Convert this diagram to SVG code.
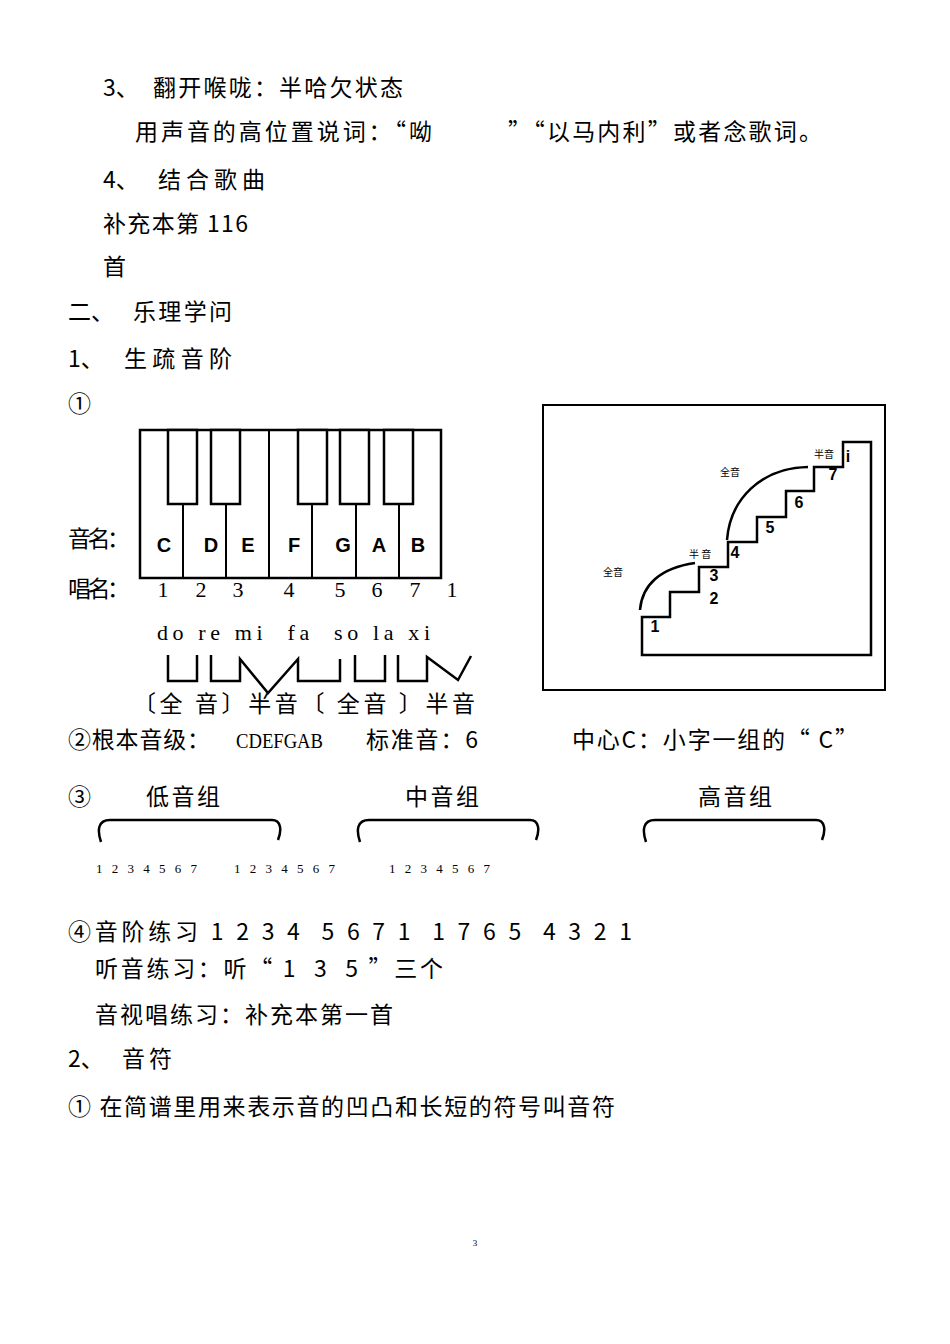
<svg xmlns="http://www.w3.org/2000/svg" width="950" height="1344" viewBox="0 0 950 1344">
<style>
text{white-space:pre}
.t{font-family:"Noto Sans CJK SC","Liberation Serif",serif;font-size:23px;fill:#000}
.n{font-family:"Liberation Serif","Noto Sans CJK SC",serif;font-size:22px;fill:#000}
.k{font-family:"Liberation Sans",Arial,sans-serif;font-weight:bold;font-size:20px;fill:#000;text-anchor:middle}
.s{font-family:"Liberation Sans",Arial,sans-serif;font-weight:bold;font-size:16px;fill:#000;text-anchor:middle}
.m{font-family:"Noto Sans CJK SC",sans-serif;font-size:10px;fill:#000}
.ln{fill:none;stroke:#000;stroke-width:2.5}
</style>
<rect width="950" height="1344" fill="#fff"/>
<g id="text">
<text class="t" x="103" y="96">3、</text>
<text class="t" x="153" y="96" textLength="250" lengthAdjust="spacing">翻开喉咙：半哈欠状态</text>
<text class="t" x="135" y="140" textLength="297" lengthAdjust="spacing">用声音的高位置说词：“呦</text>
<text class="t" x="508" y="140" textLength="314" lengthAdjust="spacing">”“以马内利”或者念歌词。</text>
<text class="t" x="103" y="188">4、</text>
<text class="t" x="158" y="188" textLength="107" lengthAdjust="spacing">结合歌曲</text>
<text class="t" x="103" y="232" textLength="145" lengthAdjust="spacing">补充本第 116</text>
<text class="t" x="103" y="275">首</text>
<text class="t" x="68" y="320">二、</text>
<text class="t" x="133" y="320" textLength="99" lengthAdjust="spacing">乐理学问</text>
<text class="t" x="68" y="367">1、</text>
<text class="t" x="124" y="367" textLength="108" lengthAdjust="spacing">生疏音阶</text>
<text class="t" x="68" y="412">①</text>
<text class="t" x="68" y="547" textLength="62" lengthAdjust="spacing">音名：</text>
<text class="t" x="68" y="597" textLength="62" lengthAdjust="spacing">唱名：</text>
<text class="t" x="68" y="748" textLength="142" lengthAdjust="spacing">②根本音级：</text>
<text class="n" x="236" y="748" textLength="87" lengthAdjust="spacingAndGlyphs">CDEFGAB</text>
<text class="t" x="366" y="748" textLength="112" lengthAdjust="spacing">标准音：6</text>
<text class="t" x="572" y="748" textLength="286" lengthAdjust="spacing">中心C：小字一组的“ C”</text>
<text class="t" x="68" y="805">③</text>
<text class="t" x="146" y="805" textLength="74" lengthAdjust="spacing">低音组</text>
<text class="t" x="405" y="805" textLength="74" lengthAdjust="spacing">中音组</text>
<text class="t" x="698" y="805" textLength="74" lengthAdjust="spacing">高音组</text>
<text class="t" x="68" y="940" textLength="564" lengthAdjust="spacing">④音阶练习 1 2 3 4  5 6 7 1  1 7 6 5  4 3 2 1</text>
<text class="t" x="95" y="977" textLength="348" lengthAdjust="spacing">听音练习：听“ 1  3  5 ”三个</text>
<text class="t" x="95" y="1023" textLength="298" lengthAdjust="spacing">音视唱练习：补充本第一首</text>
<text class="t" x="68" y="1067">2、</text>
<text class="t" x="122" y="1067" textLength="50" lengthAdjust="spacing">音符</text>
<text class="t" x="68" y="1115" textLength="547" lengthAdjust="spacing">① 在简谱里用来表示音的凹凸和长短的符号叫音符</text>
<text x="475" y="1246" font-family="Liberation Serif,serif" font-size="9" text-anchor="middle">3</text>
</g>
<g id="keyboard" stroke="#000" fill="#fff">
<rect x="140" y="430" width="301" height="148" stroke-width="2.5"/>
<path d="M183,504V578M226,504V578M269,430V578M312,504V578M356,504V578M399,504V578" stroke-width="2"/>
<rect x="168" y="430" width="29" height="74" stroke-width="2.5"/>
<rect x="211" y="430" width="29" height="74" stroke-width="2.5"/>
<rect x="298" y="430" width="29" height="74" stroke-width="2.5"/>
<rect x="340" y="430" width="29" height="74" stroke-width="2.5"/>
<rect x="384" y="430" width="29" height="74" stroke-width="2.5"/>
</g>
<g id="keylabels">
<text class="k" x="164" y="552">C</text><text class="k" x="211" y="552">D</text><text class="k" x="248" y="552">E</text><text class="k" x="294" y="552">F</text><text class="k" x="343" y="552">G</text><text class="k" x="379" y="552">A</text><text class="k" x="418" y="552">B</text>
<text class="n" x="163" y="597" text-anchor="middle">1</text><text class="n" x="201" y="597" text-anchor="middle">2</text><text class="n" x="238" y="597" text-anchor="middle">3</text><text class="n" x="289" y="597" text-anchor="middle">4</text><text class="n" x="340" y="597" text-anchor="middle">5</text><text class="n" x="377" y="597" text-anchor="middle">6</text><text class="n" x="415" y="597" text-anchor="middle">7</text><text class="n" x="452" y="597" text-anchor="middle">1</text>
<text class="n" x="157" y="640" textLength="273" lengthAdjust="spacing">do re mi  fa  so la xi</text>
<text class="t" x="133" y="712" textLength="342" lengthAdjust="spacing">〔全 音〕半音〔 全音 〕半音</text>
</g>
<g id="connectors" class="ln">
<path d="M168,655V681H197V655"/>
<path d="M211,655V681H240V659L268,693L298,659V681H340V659"/>
<path d="M355,655V681H385V655"/>
<path d="M398,655V681H427V657L458,680L471,656"/>
</g>
<g id="stairs">
<rect x="543" y="405" width="342" height="285" fill="none" stroke="#000" stroke-width="2"/>
<path class="ln" d="M642,655V617H670V592H699V567H728V542H757V517H786V491H814V467H843V442H871V655Z"/>
<path class="ln" d="M640,610C642,585 660,568 695,563"/>
<path class="ln" d="M727,540C730,500 760,468 808,467"/>
<text class="s" x="655" y="632">1</text><text class="s" x="714" y="604">2</text><text class="s" x="714" y="581">3</text><text class="s" x="735" y="558">4</text><text class="s" x="770" y="533">5</text><text class="s" x="799" y="508">6</text><text class="s" x="833" y="480">7</text><text class="s" x="848" y="462">i</text>
<text class="m" x="603" y="576">全音</text><text class="m" x="689" y="558">半 音</text><text class="m" x="720" y="476">全音</text><text class="m" x="814" y="458">半音</text>
</g>
<g id="brackets" class="ln" stroke-width="2">
<path d="M101,842C97,830 98,820 110,820H272C281,820 282,830 278,840"/>
<path d="M360,842C356,830 357,820 369,820H530C539,820 540,830 536,840"/>
<path d="M646,842C642,830 643,820 655,820H816C825,820 826,830 822,840"/>
</g>
<g font-family="Liberation Serif,serif" font-size="13">
<text x="96" y="873" textLength="101" lengthAdjust="spacing">1 2 3 4 5 6 7</text><text x="234" y="873" textLength="101" lengthAdjust="spacing">1 2 3 4 5 6 7</text><text x="389" y="873" textLength="101" lengthAdjust="spacing">1 2 3 4 5 6 7</text>
</g>
</svg>
